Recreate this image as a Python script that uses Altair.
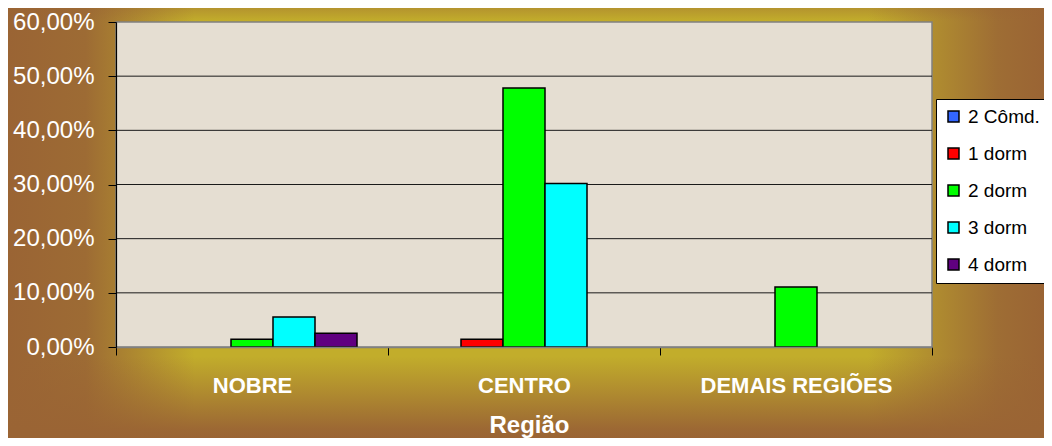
import altair as alt
import pandas as pd

# ---- data ----
regions = ["NOBRE", "CENTRO", "DEMAIS REGIÕES"]
series = ["2 Cômd.", "1 dorm", "2 dorm", "3 dorm", "4 dorm"]
v_2comd = [0.0, 0.0, 0.0]
v_1dorm = [0.0, 0.0145, 0.0]
v_2dorm = [0.0145, 0.478, 0.111]
v_3dorm = [0.0555, 0.302, 0.0]
v_4dorm = [0.0253, 0.0, 0.0]
colors = ["#3366FF", "#FF0000", "#00FF00", "#00FFFF", "#600080"]
y_ticks = [0.0, 0.1, 0.2, 0.3, 0.4, 0.5, 0.6]
grid_vals = [0.1, 0.2, 0.3, 0.4, 0.5]

rows = []
for s, vals in zip(series, [v_2comd, v_1dorm, v_2dorm, v_3dorm, v_4dorm]):
    for r, v in zip(regions, vals):
        rows.append({"region": r, "series": s, "value": v})
df = pd.DataFrame(rows)
grid_df = pd.DataFrame({"value": grid_vals})
one = pd.DataFrame({"a": [0]})

W, H = 816, 325
PAD = {"left": 108, "top": 14, "right": 112, "bottom": 91}
FONT = "Liberation Sans"

brown = "#9A6434"
gold = "#C2AD2B"

hgrad = {
    "gradient": "linear", "x1": 0, "x2": 1, "y1": 0, "y2": 0,
    "stops": [
        {"offset": 0.0, "color": brown},
        {"offset": 0.075, "color": "#9D6B34"},
        {"offset": 0.18, "color": gold},
        {"offset": 0.83, "color": gold},
        {"offset": 0.955, "color": "#9E6D34"},
        {"offset": 1.0, "color": brown},
    ],
}
vgrad = {
    "gradient": "linear", "x1": 0, "x2": 0, "y1": 0, "y2": 1,
    "stops": [
        {"offset": 0.0, "color": "rgba(154,100,52,0.35)"},
        {"offset": 0.03, "color": "rgba(154,100,52,0)"},
        {"offset": 0.81, "color": "rgba(154,100,52,0)"},
        {"offset": 0.90, "color": "rgba(154,100,52,0.5)"},
        {"offset": 0.98, "color": "rgba(154,100,52,0.95)"},
        {"offset": 1.0, "color": "rgba(154,100,52,1)"},
    ],
}

full = dict(
    x=alt.value(-PAD["left"]), x2=alt.value(W + PAD["right"]),
    y=alt.value(-PAD["top"]), y2=alt.value(H + PAD["bottom"]),
)
bg1 = alt.Chart(one).mark_rect(color=hgrad).encode(**full)
bg2 = alt.Chart(one).mark_rect(color=vgrad).encode(**full)
plot_bg = alt.Chart(one).mark_rect(
    fill="#E5DED2", stroke="#808080", strokeWidth=1.5
).encode(x=alt.value(0), x2=alt.value(W), y=alt.value(0), y2=alt.value(H))

y_axis = alt.Axis(
    title=None, values=y_ticks, grid=False, zindex=1,
    labelExpr="replace(format(datum.value, '.2%'), '.', ',')",
    labelColor="white", labelFont=FONT, labelFontSize=24, labelPadding=14,
    tickSize=8, tickColor="black", domainColor="black", domainWidth=1.2,
)
y_scale = alt.Scale(domain=[0, 0.6], nice=False, zero=True)

grid = alt.Chart(grid_df).mark_rule(color="#1a1a1a", strokeWidth=1).encode(
    y=alt.Y("value:Q", scale=y_scale, axis=y_axis),
    x=alt.value(0), x2=alt.value(W),
)

bars = alt.Chart(df).transform_filter("datum.value > 0").mark_bar(
    stroke="black", strokeWidth=1.5
).encode(
    x=alt.X(
        "region:N", sort=regions,
        scale=alt.Scale(domain=regions, paddingInner=0, paddingOuter=0),
        axis=alt.Axis(
            title="Região", labelAngle=0, zindex=1, grid=False,
            labelColor="white", labelFont=FONT, labelFontSize=22,
            labelFontWeight="bold", labelPadding=20, labelLimit=400,
            tickBand="extent", tickSize=8, tickColor="black",
            domainColor="#808080", domainWidth=1.5,
            titleColor="white", titleFont=FONT, titleFontSize=24,
            titleFontWeight="bold", titleBaseline="alphabetic",
            titleY=85, titleX=413,
        ),
    ),
    xOffset=alt.XOffset(
        "series:N", sort=series,
        scale=alt.Scale(domain=series, paddingOuter=0.738, paddingInner=0),
    ),
    y=alt.Y("value:Q", scale=y_scale, axis=y_axis),
    color=alt.Color(
        "series:N", sort=series,
        scale=alt.Scale(domain=series, range=colors),
        legend=alt.Legend(
            title=None, orient="none", legendX=820, legendY=77,
            fillColor="white", strokeColor="black", padding=8,
            symbolType="square", symbolSize=121,
            symbolStrokeColor="black", symbolStrokeWidth=1.5,
            symbolOpacity=1,
            labelFont=FONT, labelFontSize=19, labelColor="black",
            labelOffset=5, rowPadding=17, cornerRadius=0,
            labelLimit=200,
        ),
    ),
)

chart = alt.layer(bg1, bg2, plot_bg, grid, bars).properties(
    width=W, height=H,
    autosize=alt.AutoSizeParams(type="none"),
    padding=PAD,
    background=brown,
).configure_view(stroke=None)

chart.save("out.html", embed_options={"renderer": "svg", "actions": False})
